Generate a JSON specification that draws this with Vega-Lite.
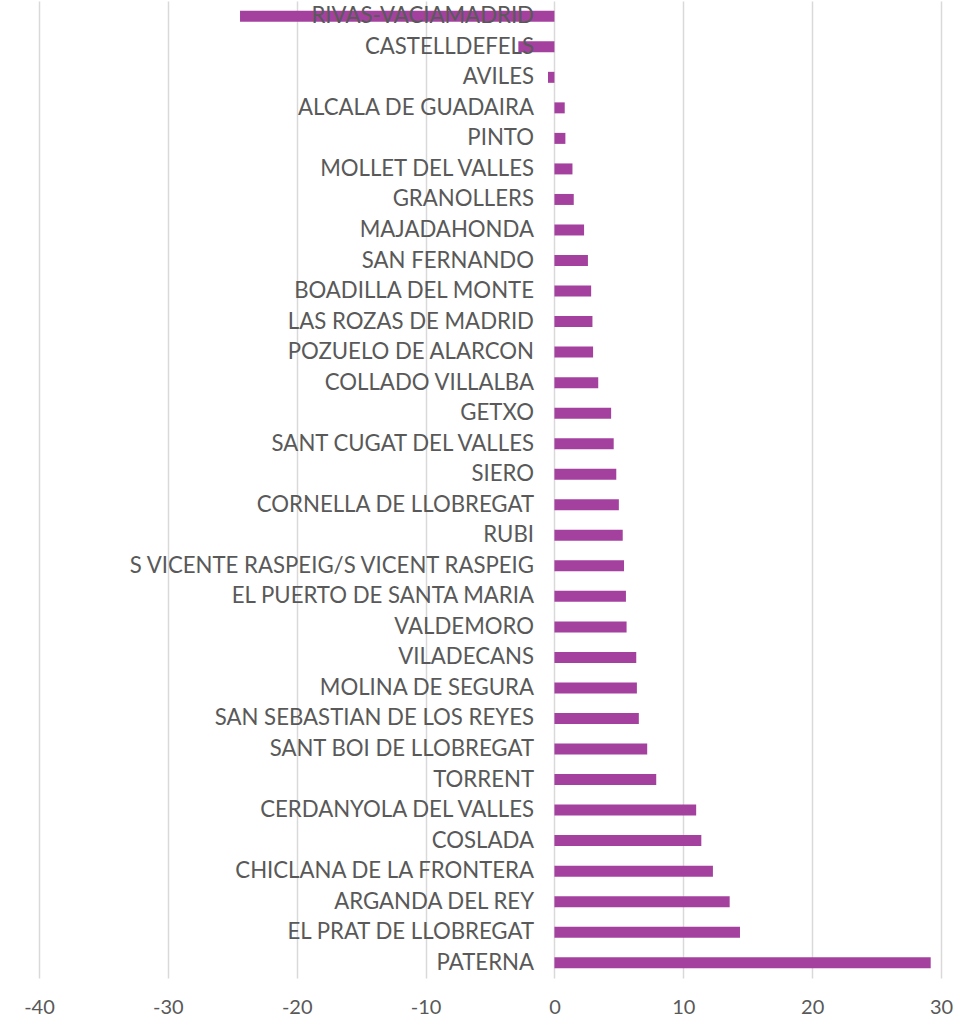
{
  "$schema": "https://vega.github.io/schema/vega-lite/v6.json",
  "width": 902,
  "height": 977,
  "autosize": "none",
  "padding": {"left": 39, "top": 1, "right": 38, "bottom": 50},
  "background": "white",
  "config": {"view": {"stroke": null}, "font": "Lato"},
  "data": {"values": [
    {"city": "RIVAS-VACIAMADRID", "value": -24.4},
    {"city": "CASTELLDEFELS", "value": -2.8},
    {"city": "AVILES", "value": -0.5},
    {"city": "ALCALA DE GUADAIRA", "value": 0.8},
    {"city": "PINTO", "value": 0.85},
    {"city": "MOLLET DEL VALLES", "value": 1.4},
    {"city": "GRANOLLERS", "value": 1.5},
    {"city": "MAJADAHONDA", "value": 2.3},
    {"city": "SAN FERNANDO", "value": 2.6},
    {"city": "BOADILLA DEL MONTE", "value": 2.85},
    {"city": "LAS ROZAS DE MADRID", "value": 2.95},
    {"city": "POZUELO DE ALARCON", "value": 3.0},
    {"city": "COLLADO VILLALBA", "value": 3.4},
    {"city": "GETXO", "value": 4.4},
    {"city": "SANT CUGAT DEL VALLES", "value": 4.6},
    {"city": "SIERO", "value": 4.8},
    {"city": "CORNELLA DE LLOBREGAT", "value": 5.0},
    {"city": "RUBI", "value": 5.3},
    {"city": "S VICENTE RASPEIG/S VICENT RASPEIG", "value": 5.4},
    {"city": "EL PUERTO DE SANTA MARIA", "value": 5.55},
    {"city": "VALDEMORO", "value": 5.6},
    {"city": "VILADECANS", "value": 6.35},
    {"city": "MOLINA DE SEGURA", "value": 6.4},
    {"city": "SAN SEBASTIAN DE LOS REYES", "value": 6.55},
    {"city": "SANT BOI DE LLOBREGAT", "value": 7.2},
    {"city": "TORRENT", "value": 7.9},
    {"city": "CERDANYOLA DEL VALLES", "value": 11.0},
    {"city": "COSLADA", "value": 11.4},
    {"city": "CHICLANA DE LA FRONTERA", "value": 12.3},
    {"city": "ARGANDA DEL REY", "value": 13.6},
    {"city": "EL PRAT DE LLOBREGAT", "value": 14.4},
    {"city": "PATERNA", "value": 29.2}
  ]},
  "mark": {"type": "bar", "color": "#A4419F"},
  "encoding": {
    "y": {
      "field": "city", "type": "nominal", "sort": null,
      "scale": {"paddingInner": 0.64, "paddingOuter": 0.32},
      "axis": {
        "title": null, "domain": false, "ticks": false, "grid": false,
        "offset": -515.5, "labelPadding": 21, "zindex": 1, "labelLimit": 0,
        "labelFontSize": 22.2, "labelColor": "#595959", "labelFont": "Lato"
      }
    },
    "x": {
      "field": "value", "type": "quantitative",
      "scale": {"domain": [-40, 30], "nice": false, "zero": false},
      "axis": {
        "title": null, "domain": false, "ticks": false,
        "values": [-40, -30, -20, -10, 0, 10, 20, 30],
        "labelExpr": "'' + datum.value",
        "grid": true, "gridColor": "#D9D9D9", "gridWidth": 1.5,
        "labelFontSize": 20, "labelColor": "#595959", "labelPadding": 19,
        "labelFont": "Lato", "labelFlush": false
      }
    }
  }
}
